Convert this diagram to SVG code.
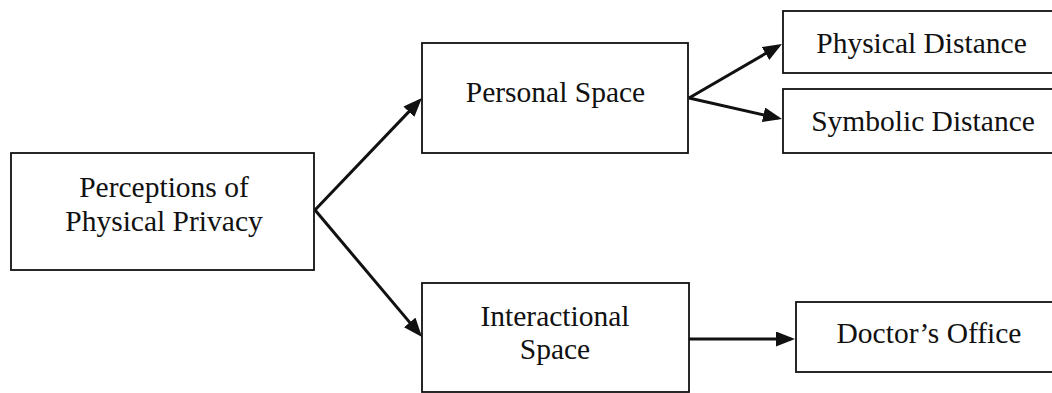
<svg xmlns="http://www.w3.org/2000/svg" width="1052" height="393" viewBox="0 0 1052 393">
<style>
.box{fill:#fff;stroke:#111;stroke-width:1.8}
.lbl{font-family:"Liberation Serif","Times New Roman",serif;font-size:29.5px;fill:#111;text-anchor:middle}
.conn{stroke:#111;stroke-width:3;fill:none;marker-end:url(#ah)}
</style>
<defs>
<marker id="ah" markerUnits="userSpaceOnUse" markerWidth="20" markerHeight="16" refX="15" refY="7.5" orient="auto">
<path d="M0,0 L19,7.5 L0,15 z" fill="#111"/>
</marker>
</defs>
<rect width="1052" height="393" fill="#fff"/>
<g id="connectors">
<line class="conn" x1="315" y1="210" x2="419.2" y2="100.9"/>
<line class="conn" x1="315" y1="210" x2="419.4" y2="333.9"/>
<line class="conn" x1="689" y1="98" x2="778.5" y2="46"/>
<line class="conn" x1="689" y1="98" x2="778.1" y2="118.1"/>
<line class="conn" x1="689" y1="339" x2="791" y2="339"/>
</g>
<g id="perceptions">
<rect class="box" x="11" y="153" width="303" height="117"/>
<text class="lbl" x="164" y="197">Perceptions of</text>
<text class="lbl" x="164" y="231">Physical Privacy</text>
</g>
<g id="personal-space">
<rect class="box" x="422" y="43" width="266" height="110"/>
<text class="lbl" x="555.5" y="102">Personal Space</text>
</g>
<g id="interactional-space">
<rect class="box" x="422" y="283" width="267" height="109"/>
<text class="lbl" x="555" y="326">Interactional</text>
<text class="lbl" x="555" y="359">Space</text>
</g>
<g id="physical-distance">
<rect class="box" x="783" y="11" width="290" height="62"/>
<text class="lbl" x="921.5" y="53">Physical Distance</text>
</g>
<g id="symbolic-distance">
<rect class="box" x="783" y="89" width="290" height="64"/>
<text class="lbl" x="923" y="131">Symbolic Distance</text>
</g>
<g id="doctors-office">
<rect class="box" x="796" y="302" width="280" height="70"/>
<text class="lbl" x="929" y="343">Doctor’s Office</text>
</g>
</svg>
